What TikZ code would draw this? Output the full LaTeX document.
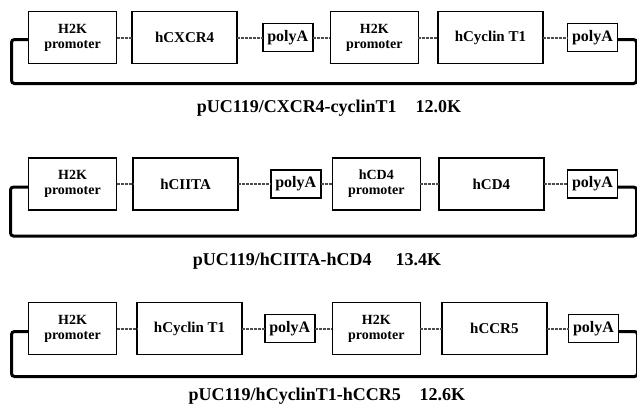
\documentclass[tikz,border=0pt]{standalone}
\usepackage{fontspec}
\setmainfont{Liberation Serif}
\usepackage{tikz}
\usetikzlibrary{positioning}

\begin{document}
\begin{tikzpicture}[
  x=1pt, y=-1pt,
  every node/.style={font=\bfseries},
  box/.style={
    draw,
    line width=1.6pt,
    rectangle,
    align=center,
    inner sep=1pt,
    outer sep=0pt,
    minimum height=52pt
  },
  prom/.style={box, minimum width=88pt, font=\bfseries\fontsize{14}{15}\selectfont},
  gene/.style={box, minimum width=105pt, font=\bfseries\fontsize{15}{16}\selectfont},
  pa/.style={box, minimum width=50pt, minimum height=28pt, font=\bfseries\fontsize{16}{17}\selectfont},
  link/.style={line width=2pt, black!70, dash pattern=on 3pt off 1pt},
  loopline/.style={line width=3pt, rounded corners=3pt},
  caption/.style={font=\bfseries\fontsize{18}{20}\selectfont}
]
\useasboundingbox (0,0) rectangle (637,407);

\node[prom] (a1) at (72.5,37.5) {H2K\\promoter};
\node[gene] (a2) [right=15.6pt of a1] {hCXCR4};
\node[pa]   (a3) [right=25.6pt of a2] {polyA};
\node[prom] (a4) [right=17.6pt of a3] {H2K\\promoter};
\node[gene] (a5) [right=19.6pt of a4] {hCyclin T1};
\node[pa]   (a6) [right=24.6pt of a5] {polyA};
\node[caption] (capa) at (329,108) {pUC119/CXCR4-cyclinT1\hspace{19pt}12.0K};

\node[prom] (b1) at (72.5,184) {H2K\\promoter};
\node[gene] (b2) [right=16.6pt of b1] {hCIITA};
\node[pa]   (b3) [right=32.6pt of b2] {polyA};
\node[prom] (b4) [right=11.6pt of b3] {hCD4\\promoter};
\node[gene] (b5) [right=18.6pt of b4] {hCD4};
\node[pa]   (b6) [right=23.6pt of b5] {polyA};
\node[caption] (capb) at (317,261) {pUC119/hCIITA-hCD4\hspace{24pt}13.4K};

\node[prom] (c1) at (72.5,328.5) {H2K\\promoter};
\node[gene] (c2) [right=20.6pt of c1] {hCyclin T1};
\node[pa]   (c3) [right=22.6pt of c2] {polyA};
\node[prom] (c4) [right=17.6pt of c3] {H2K\\promoter};
\node[gene] (c5) [right=21.6pt of c4] {hCCR5};
\node[pa]   (c6) [right=21.6pt of c5] {polyA};
\node[caption] (capc) at (327,396) {pUC119/hCyclinT1-hCCR5\hspace{19pt}12.6K};

\foreach \r in {a,b,c}{
  \draw[link] (\r1) -- (\r2);
  \draw[link] (\r2) -- (\r3);
  \draw[link] (\r3) -- (\r4);
  \draw[link] (\r4) -- (\r5);
  \draw[link] (\r5) -- (\r6);
}

\draw[loopline] ([yshift=-2pt]a6.east) -- ++(19,0) -- ++(0,44) -| ([xshift=-17pt,yshift=-2pt]a1.west) -- ([yshift=-2pt]a1.west);
\draw[loopline] ([yshift=-3pt]b6.east) -- ++(19,0) -- ++(0,49) -| ([xshift=-18pt,yshift=-3pt]b1.west) -- ([yshift=-3pt]b1.west);
\draw[loopline] ([yshift=-3pt]c6.east) -- ++(19,0) -- ++(0,45) -| ([xshift=-17pt,yshift=-3pt]c1.west) -- ([yshift=-3pt]c1.west);

\end{tikzpicture}
\end{document}
